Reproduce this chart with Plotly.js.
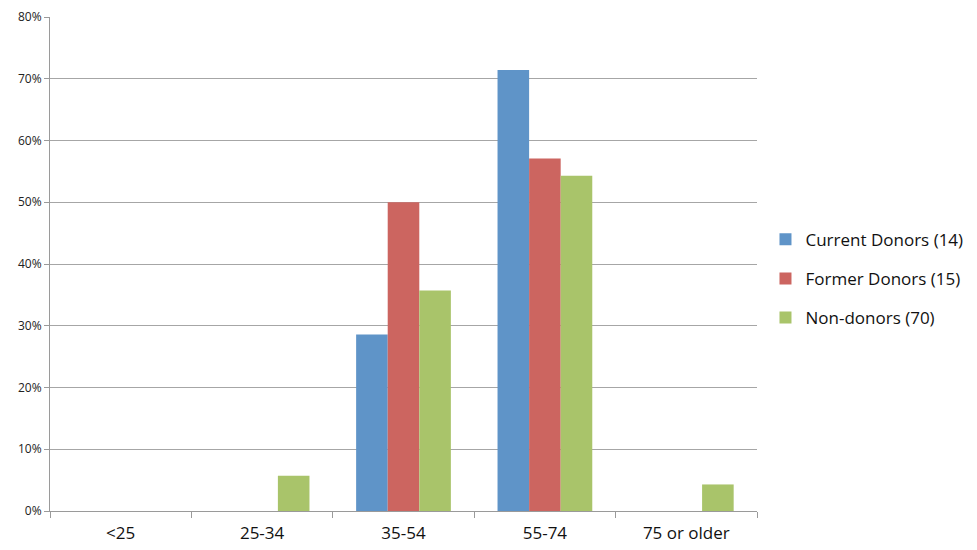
<!DOCTYPE html>
<html>
<head>
<meta charset="utf-8">
<script src="https://cdn.plot.ly/plotly-3.0.1.min.js"></script>
<style>html,body{margin:0;padding:0;background:#fff;}#chart{width:977px;height:550px;}</style>
</head>
<body>
<div id="chart"></div>
<script>
const categories = ["<25", "25-34", "35-54", "55-74", "75 or older"];
const seriesNames = ["Current Donors (14)", "Former Donors (15)", "Non-donors (70)"];
const currentDonors = [0, 0, 28.6, 71.4, 0];
const formerDonors = [0, 0, 50.0, 57.1, 0];
const nonDonors = [0, 5.7, 35.7, 54.3, 4.3];
const yTickVals = [0, 10, 20, 30, 40, 50, 60, 70, 80];
const yTickText = ["0%", "10%", "20%", "30%", "40%", "50%", "60%", "70%", "80%"];

const colors = ["#5f94c8", "#cc6560", "#a9c46a"];
const values = [currentDonors, formerDonors, nonDonors];

const traces = values.map((v, i) => ({
  type: "bar",
  name: seriesNames[i],
  x: categories,
  y: v,
  marker: {color: colors[i]},
  legendgroup: "g" + i,
  hoverinfo: "none"
}));

const layout = {
  width: 977, height: 550,
  margin: {l: 50, r: 220, t: 17, b: 39, autoexpand: false},
  paper_bgcolor: "#fff", plot_bgcolor: "#fff",
  barmode: "group",
  bargap: 0.33, bargroupgap: 0,
  font: {family: "Open Sans, Liberation Sans, sans-serif", color: "#222"},
  xaxis: {
    type: "category",
    showline: true, linecolor: "#9a9a9a", linewidth: 1,
    ticks: "outside", tickson: "boundaries", ticklen: 6, tickcolor: "#9a9a9a",
    ticklabelstandoff: 7,
    showgrid: false, zeroline: false,
    tickfont: {size: 17, color: "#111"}
  },
  yaxis: {
    range: [0, 80],
    tickvals: yTickVals, ticktext: yTickText,
    showline: true, linecolor: "#9a9a9a", linewidth: 1,
    ticks: "outside", ticklen: 5, tickcolor: "#9a9a9a",
    showgrid: true, gridcolor: "#a6a6a6", gridwidth: 1,
    zeroline: false,
    tickfont: {size: 12, color: "#222"}
  },
  showlegend: true,
  legend: {
    x: 1.012, xanchor: "left", y: 0.47, yanchor: "middle",
    font: {size: 17, color: "#111"},
    traceorder: "grouped", tracegroupgap: 14,
    itemwidth: 30
  }
};

Plotly.newPlot("chart", traces, layout, {displayModeBar: false, staticPlot: true});
</script>
</body>
</html>
